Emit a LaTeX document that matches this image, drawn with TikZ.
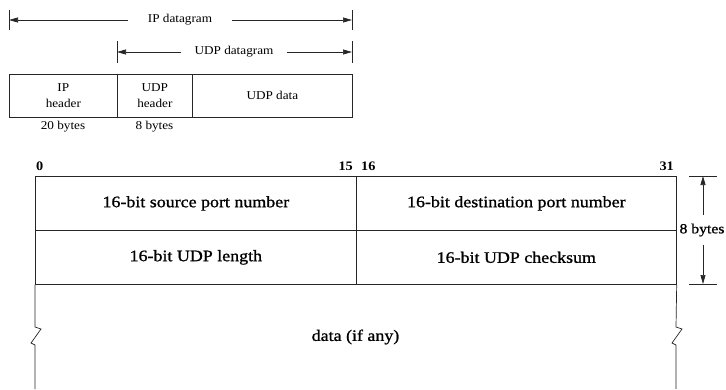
\documentclass[tikz,border=0pt]{standalone}
\usepackage{fontspec}
\setmainfont{Liberation Serif}[FakeStretch=1.1]
\newfontfamily\layoutfont{Liberation Serif}[FakeStretch=1.12, FakeBold=1]
\usetikzlibrary{arrows.meta}
\begin{document}
\begin{tikzpicture}[x=1pt,y=-1pt,
  every node/.style={font=\fontsize{12}{15.5}\selectfont, inner sep=0pt},
  line/.style={line width=0.7pt, black!85},
  cell/.style={draw=black!85, line width=0.7pt, anchor=north west, inner sep=0pt, align=center},
  dim/.style={line, -{Triangle[length=9pt,width=5pt]}},
  big/.style={font=\layoutfont\fontsize{16}{18}\selectfont},
  bitno/.style={font=\fontsize{13}{15}\selectfont\bfseries}]
\useasboundingbox (0,0) rectangle (726,389);

% ---- encapsulation: IP datagram carrying a UDP datagram ----
\coordinate (ipL) at (9,20);
\coordinate (ipR) at (352,20);
\coordinate (udL) at (117,52);
\coordinate (udR) at (352,52);
\draw[line] (9,10) -- (9,30);
\draw[line] (352,10) -- (352,30);
\draw[line] (117,41) -- (117,63);
\draw[line] (352,41) -- (352,63);
\node[inner xsep=20pt] (ipd) at (180,20) {IP datagram};
\draw[dim] (ipd) -- (ipL);
\draw[dim] (ipd) -- (ipR);
\node[inner xsep=13pt] (udpd) at (234,52) {UDP datagram};
\draw[dim] (udpd) -- (udL);
\draw[dim] (udpd) -- (udR);

\node[cell, minimum width=108pt, minimum height=43pt] (iphdr) at (9,74) {IP\\header};
\node[cell, minimum width=75pt, minimum height=43pt] (udphdr) at (117,74) {UDP\\header};
\node[cell, minimum width=160pt, minimum height=43pt] (udpdata) at (192,74) {UDP data};
\node[anchor=base] (ipbytes) at (63,129) {20 bytes};
\node[anchor=base] (udpbytes) at (154.5,129) {8 bytes};

% ---- UDP header layout ----
\node[bitno, anchor=base west] (b0) at (36,170) {0};
\node[bitno, anchor=base east] (b15) at (353,170) {15};
\node[bitno, anchor=base west] (b16) at (361,170) {16};
\node[bitno, anchor=base east] (b31) at (674,170) {31};

\node[cell, big, minimum width=321pt, minimum height=54pt] (srcport) at (35,176) {16-bit source port number};
\node[cell, big, minimum width=320pt, minimum height=54pt] (dstport) at (356,176) {16-bit destination port number};
\node[cell, big, minimum width=321pt, minimum height=54pt] (udplen) at (35,230) {16-bit UDP length};
\node[cell, big, minimum width=320pt, minimum height=54pt] (checksum) at (356,230) {16-bit UDP checksum};

% open-ended data area with break marks on both sides
\draw[line] (udplen.south west) -- (35,327) -- (41,329) -- (31,343) -- (35,345) -- (35,389);
\draw[line] (checksum.south east) -- (676,327) -- (682,329) -- (672,343) -- (676,345) -- (676,389);
\node[big] (data) at (355.5,337) {data (if any)};

% header size bracket
\coordinate (bt) at (703,176);
\coordinate (bb) at (703,284);
\draw[line] (689,176) -- (717,176);
\draw[line] (689,284) -- (717,284);
\node[font=\layoutfont\fontsize{14}{16}\selectfont, inner ysep=8pt] (eight) at (702,230) {8 bytes};
\draw[dim] (eight.north -| bt) -- (bt);
\draw[dim] (eight.south -| bb) -- (bb);
\end{tikzpicture}
\end{document}
